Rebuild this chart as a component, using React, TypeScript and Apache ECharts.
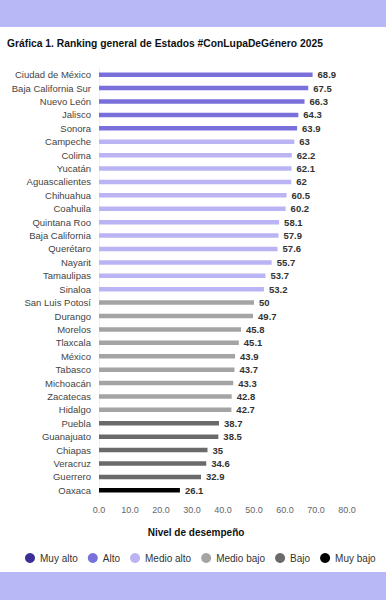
import React, { useEffect, useRef } from "react";
import * as echarts from "echarts";

const categories = [
  "Ciudad de México", "Baja California Sur", "Nuevo León", "Jalisco", "Sonora",
  "Campeche", "Colima", "Yucatán", "Aguascalientes", "Chihuahua", "Coahuila",
  "Quintana Roo", "Baja California", "Querétaro", "Nayarit", "Tamaulipas", "Sinaloa",
  "San Luis Potosí", "Durango", "Morelos", "Tlaxcala", "México", "Tabasco",
  "Michoacán", "Zacatecas", "Hidalgo", "Puebla", "Guanajuato", "Chiapas",
  "Veracruz", "Guerrero", "Oaxaca",
];
const values = [
  68.9, 67.5, 66.3, 64.3, 63.9,
  63, 62.2, 62.1, 62, 60.5, 60.2,
  58.1, 57.9, 57.6, 55.7, 53.7, 53.2,
  50, 49.7, 45.8, 45.1, 43.9, 43.7,
  43.3, 42.8, 42.7, 38.7, 38.5, 35,
  34.6, 32.9, 26.1,
];
const levels = [
  "Alto", "Alto", "Alto", "Alto", "Alto",
  "Medio alto", "Medio alto", "Medio alto", "Medio alto", "Medio alto", "Medio alto",
  "Medio alto", "Medio alto", "Medio alto", "Medio alto", "Medio alto", "Medio alto",
  "Medio bajo", "Medio bajo", "Medio bajo", "Medio bajo", "Medio bajo", "Medio bajo",
  "Medio bajo", "Medio bajo", "Medio bajo", "Bajo", "Bajo", "Bajo",
  "Bajo", "Bajo", "Muy bajo",
];
const levelNames = ["Muy alto", "Alto", "Medio alto", "Medio bajo", "Bajo", "Muy bajo"];
const levelColors = ["#3b2f96", "#7a70dc", "#bab4f4", "#a4a4a4", "#6a6a6a", "#000000"];
const xTicks = [0, 10, 20, 30, 40, 50, 60, 70, 80];

export default function App() {
  const ref = useRef<HTMLDivElement>(null);
  useEffect(() => {
    const chart = echarts.init(ref.current!, null, { renderer: "svg" });
    const font = "Liberation Sans, Arial, sans-serif";
    const series = levelNames.map((name, li) => ({
      name,
      type: "bar",
      stack: "s",
      barWidth: 4.5,
      itemStyle: { color: levelColors[li] },
      label: {
        show: true,
        position: "right",
        distance: 5,
        fontFamily: font,
        fontSize: 9.5,
        fontWeight: "bold",
        color: "#333",
        formatter: (p: any) => String(p.value),
      },
      data: values.map((v, i) => (levels[i] === name ? v : "-")),
    }));
    chart.setOption({
      animation: false,
      backgroundColor: "#ffffff",
      textStyle: { fontFamily: font },
      graphic: [
        { type: "rect", shape: { x: 0, y: 0, width: 386, height: 27 }, style: { fill: "#b9b8f6" } },
        { type: "rect", shape: { x: 0, y: 572, width: 386, height: 28 }, style: { fill: "#b9b8f6" } },
        {
          type: "text", left: 7, top: 38,
          style: { text: "Gráfica 1. Ranking general de Estados #ConLupaDeGénero 2025", fontFamily: font, fontSize: 10.3, fontWeight: "bold", fill: "#111" },
        },
        {
          type: "text", x: 196, y: 532,
          style: { text: "Nivel de desempeño", fontFamily: font, fontSize: 10, fontWeight: "bold", fill: "#111", align: "center", verticalAlign: "middle" },
        },
      ],
      legend: {
        data: levelNames,
        bottom: 37,
        left: 25,
        padding: 0,
        icon: "circle",
        itemWidth: 10,
        itemHeight: 10,
        itemGap: 10,
        textStyle: { fontFamily: font, fontSize: 10, color: "#333" },
      },
      grid: { left: 99, right: 39, top: 68, bottom: 103, containLabel: false },
      xAxis: {
        type: "value",
        min: xTicks[0],
        max: xTicks[xTicks.length - 1],
        interval: 10,
        axisLine: { show: false },
        axisTick: { show: false },
        splitLine: { show: false },
        axisLabel: { fontFamily: font, fontSize: 9, color: "#666", margin: 8, formatter: (v: number) => v.toFixed(1) },
      },
      yAxis: {
        type: "category",
        data: categories,
        inverse: true,
        axisLine: { show: true, lineStyle: { color: "#f0f0f0" } },
        axisTick: { show: false },
        axisLabel: { fontFamily: font, fontSize: 9.5, color: "#444", margin: 8 },
      },
      series,
    });
    return () => chart.dispose();
  }, []);
  return <div ref={ref} style={{ position: "fixed", left: 0, top: 0, width: 386, height: 600 }} />;
}
